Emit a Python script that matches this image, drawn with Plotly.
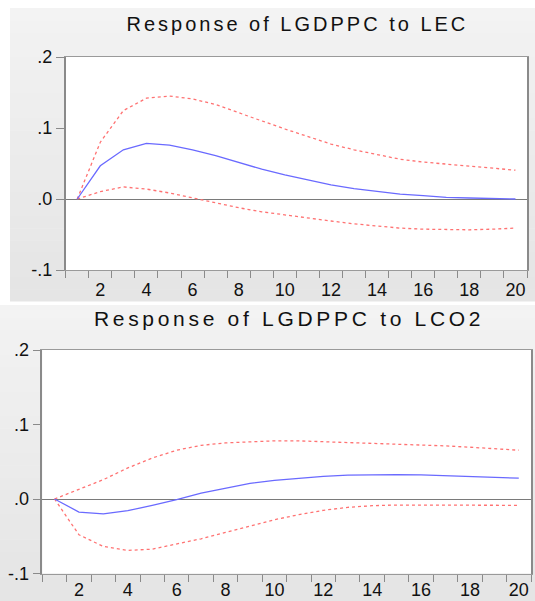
import plotly.graph_objects as go

W, H = 535, 601

periods = list(range(1, 21))

# Response of LGDPPC to LEC
lec_resp = [0.0, 0.0467, 0.0693, 0.0783, 0.0760, 0.0693, 0.0610, 0.0510, 0.0420, 0.0340,
            0.0270, 0.0200, 0.0146, 0.0104, 0.0070, 0.0047, 0.0024, 0.0014, 0.0005, 0.0]
lec_upper = [0.0, 0.0800, 0.1245, 0.1420, 0.1450, 0.1410, 0.1330, 0.1220, 0.1100, 0.0986,
             0.0877, 0.0774, 0.0693, 0.0623, 0.0560, 0.0520, 0.0490, 0.0460, 0.0434, 0.0406]
lec_lower = [0.0, 0.0104, 0.0170, 0.0140, 0.0085, 0.0014, -0.0052, -0.0123, -0.0180, -0.0226,
             -0.0270, -0.0310, -0.0350, -0.0380, -0.0410, -0.0425, -0.0434, -0.0434, -0.0425, -0.0410]

# Response of LGDPPC to LCO2
co2_resp = [0.0, -0.0175, -0.0200, -0.0157, -0.0085, -0.0010, 0.0080, 0.0148, 0.0210, 0.0250,
            0.0280, 0.0305, 0.0320, 0.0327, 0.0327, 0.0323, 0.0314, 0.0305, 0.0296, 0.0280]
co2_upper = [0.0, 0.0126, 0.0260, 0.0417, 0.0550, 0.0655, 0.0720, 0.0753, 0.0770, 0.0780,
             0.0780, 0.0770, 0.0758, 0.0744, 0.0735, 0.0726, 0.0713, 0.0695, 0.0677, 0.0655]
co2_lower = [0.0, -0.0480, -0.0637, -0.0690, -0.0673, -0.0605, -0.0534, -0.0448, -0.0359, -0.0278,
             -0.0210, -0.0152, -0.0112, -0.0090, -0.0081, -0.0081, -0.0081, -0.0085, -0.0085, -0.0085]

titles = ['Response of LGDPPC to LEC', 'Response of LGDPPC to LCO2']
y_tickvals = [0.2, 0.1, 0.0, -0.1]
y_ticktext = ['.2', '.1', '.0', '-.1']
x_tickvals = [2, 4, 6, 8, 10, 12, 14, 16, 18, 20]
x_minor = [k + 0.5 for k in range(0, 21)]

blue = '#6a6aff'
red = '#ff7272'

fig = go.Figure()

panels = [
    ('x', 'y', lec_resp, lec_upper, lec_lower),
    ('x2', 'y2', co2_resp, co2_upper, co2_lower),
]
for xa, ya, resp, up, lo in panels:
    for vals in (up, lo):
        fig.add_trace(go.Scatter(
            x=periods, y=vals, xaxis=xa, yaxis=ya, mode='lines',
            line=dict(color=red, width=1.3, dash='dot'),
            showlegend=False, hoverinfo='skip'
        ))
    fig.add_trace(go.Scatter(
        x=periods, y=resp, xaxis=xa, yaxis=ya, mode='lines',
        line=dict(color=blue, width=1.3),
        showlegend=False
    ))


def px_x(p):
    return p / W


def px_y(p):
    return 1 - p / H


# plot area boxes in pixels (left, top, right, bottom)
box1 = (65.7, 57, 527, 270)
box2 = (42.3, 350, 531, 573.5)

# gray panel backgrounds with a soft vertical gradient
shapes = []
n_bands = 24
for (x0, y0, x1, y1) in [(10, 8, 535, 301.5), (0, 305, 535, 601)]:
    h = (y1 - y0) / n_bands
    for i in range(n_bands):
        g = int(243 - 14 * i / (n_bands - 1))
        shapes.append(dict(
            type='rect', xref='paper', yref='paper', layer='below',
            x0=px_x(x0), x1=px_x(x1),
            y0=px_y(min(y1, y0 + (i + 1) * h + 0.5)), y1=px_y(y0 + i * h),
            fillcolor=f'rgb({g},{g},{g})', line=dict(width=0)
        ))
for (x0, y0, x1, y1) in (box1, box2):
    shapes.append(dict(
        type='rect', xref='paper', yref='paper', layer='below',
        x0=px_x(x0), x1=px_x(x1), y0=px_y(y1), y1=px_y(y0),
        fillcolor='white', line=dict(width=0)
    ))

axis_font = dict(family='Liberation Sans, Arial', size=18, color='#111111')

xaxis_common = dict(
    range=[0.5, 20.5], tickvals=x_tickvals, ticks='outside', ticklen=0,
    tickfont=axis_font, showgrid=False, zeroline=False, automargin=False,
    showline=True, linecolor='#9a9a9a', linewidth=1, mirror=True,
    minor=dict(tickvals=x_minor, ticks='outside', ticklen=7,
               tickcolor='#8a8a8a', tickwidth=1, showgrid=False),
    ticklabelstandoff=3
)
yaxis_common = dict(
    range=[-0.1, 0.2], tickvals=y_tickvals, ticktext=y_ticktext,
    ticks='outside', ticklen=8, tickcolor='#8a8a8a', tickwidth=1,
    tickfont=axis_font, showgrid=False, automargin=False,
    zeroline=True, zerolinecolor='#7a7a7a', zerolinewidth=1,
    showline=True, linecolor='#8a8a8a', linewidth=1.5, mirror=True
)

fig.update_layout(
    template='none',
    width=W, height=H,
    margin=dict(l=0, r=0, t=0, b=0, autoexpand=False),
    paper_bgcolor='white',
    plot_bgcolor='white',
    shapes=shapes,
    xaxis=dict(xaxis_common, domain=[px_x(box1[0]), px_x(box1[2])], anchor='y'),
    yaxis=dict(yaxis_common, domain=[px_y(box1[3]), px_y(box1[1])], anchor='x'),
    xaxis2=dict(xaxis_common, domain=[px_x(box2[0]), px_x(box2[2])], anchor='y2',
                ticklabelstandoff=0),
    yaxis2=dict(yaxis_common, domain=[px_y(box2[3]), px_y(box2[1])], anchor='x2'),
    annotations=[
        dict(text=titles[0], xref='paper', yref='paper',
             x=px_x(297), y=px_y(24.5), xanchor='center', yanchor='middle',
             showarrow=False,
             font=dict(family='Liberation Sans, Arial', size=20, color='#111111')),
        dict(text=titles[1], xref='paper', yref='paper',
             x=px_x(289), y=px_y(318), xanchor='center', yanchor='middle',
             showarrow=False,
             font=dict(family='Liberation Sans, Arial', size=21, color='#111111')),
    ]
)

# page has no body margin; titles in the original use wide letter spacing
page_js = """
document.body.style.margin = '0';
var spacing = ['3px', '3.7px'];
document.querySelectorAll('.annotation-text').forEach(function (t, i) {
    t.style.letterSpacing = spacing[i] || '3px';
});
"""

fig.write_html("out.html", post_script=page_js, config={'displayModeBar': False})
